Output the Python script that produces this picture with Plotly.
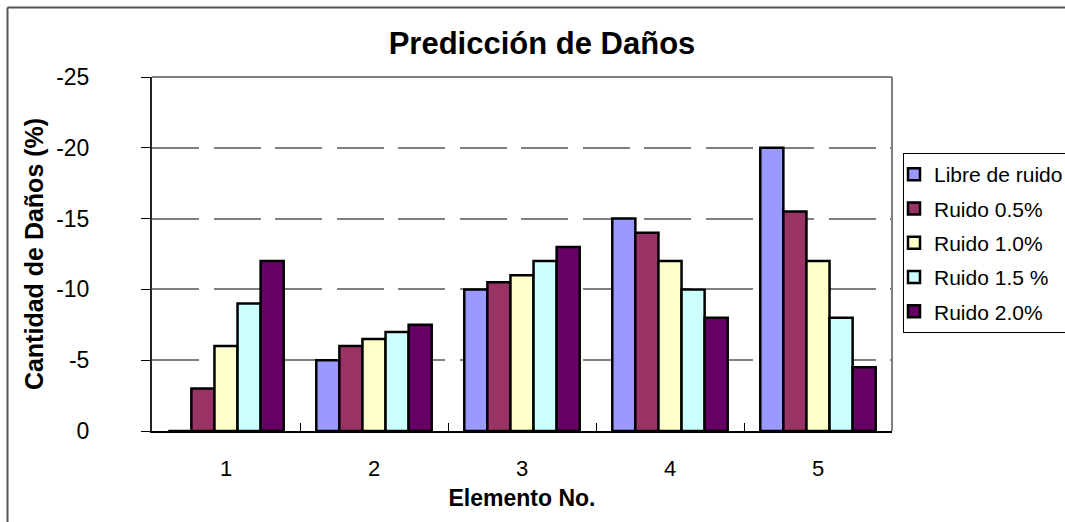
import plotly.graph_objects as go

# Damage prediction per element (negative = loss), one list per noise level
elementos = ["1", "2", "3", "4", "5"]
libre_de_ruido = [0, -5, -10, -15, -20]
ruido_05 = [-3, -6, -10.5, -14, -15.5]
ruido_10 = [-6, -6.5, -11, -12, -12]
ruido_15 = [-9, -7, -12, -10, -8]
ruido_20 = [-12, -7.5, -13, -8, -4.5]

series_names = ["Libre de ruido", "Ruido 0.5%", "Ruido 1.0%", "Ruido 1.5 %", "Ruido 2.0%"]
series_values = [libre_de_ruido, ruido_05, ruido_10, ruido_15, ruido_20]
series_colors = ["#9999FF", "#993366", "#FFFFCC", "#CCFFFF", "#660066"]

y_ticks = [0, -5, -10, -15, -20, -25]

FONT = "Liberation Sans, Arial, sans-serif"

W, H = 1065, 522
M_L, M_R, M_T, M_B = 152, 173, 77, 91
PW, PH = W - M_L - M_R, H - M_T - M_B


def px_x(p):
    return (p - M_L) / PW


def px_y(p):
    return (H - M_B - p) / PH


fig = go.Figure()
for i, (name, vals, col) in enumerate(zip(series_names, series_values, series_colors)):
    fig.add_trace(go.Bar(
        x=elementos, y=vals, name=name,
        marker=dict(color=col, line=dict(color="black", width=2.5)),
        legendgroup=f"g{i}",
    ))

fig.update_layout(
    width=W, height=H, autosize=False,
    margin=dict(l=M_L, r=M_R, t=M_T, b=M_B, pad=0, autoexpand=False),
    paper_bgcolor="white", plot_bgcolor="white",
    barmode="group", bargap=0.22, bargroupgap=0,
    font=dict(family=FONT, color="black", size=22),
    title=dict(
        text="<b>Predicción de Daños</b>",
        font=dict(family=FONT, size=31, color="black"),
        x=542 / W, xanchor="center", xref="container",
        y=1 - 43 / H, yanchor="middle", yref="container",
    ),
    legend=dict(
        x=px_x(903), y=px_y(153), xanchor="left", yanchor="top",
        bordercolor="black", borderwidth=1, bgcolor="white",
        font=dict(family=FONT, size=21, color="black"),
        tracegroupgap=4, indentation=-10,
        entrywidth=175, entrywidthmode="pixels",
    ),
    showlegend=True,
)

fig.update_xaxes(
    type="category",
    showline=True, linecolor="black", linewidth=2,
    ticks="inside", tickson="boundaries", ticklen=8, tickcolor="black", tickwidth=1,
    showgrid=False, ticklabelstandoff=17,
    tickfont=dict(family=FONT, size=22),
    title=dict(text="<b>Elemento No.</b>", font=dict(family=FONT, size=23), standoff=9),
)

fig.update_yaxes(
    range=[0, -25], tickvals=y_ticks, ticktext=[str(v) for v in y_ticks],
    showline=True, linecolor="#222222", linewidth=2,
    ticks="outside", ticklen=9, tickcolor="black", tickwidth=1,
    showgrid=True, gridcolor="#808080", gridwidth=2, griddash="47px,14.5px",
    zeroline=False, ticklabelstandoff=47,
    tickfont=dict(family=FONT, size=23),
    title=dict(text="<b>Cantidad de Daños (%)</b>", font=dict(family=FONT, size=25), standoff=5),
)

# Grey frame on the top and right of the plot area
fig.add_shape(type="line", xref="paper", yref="paper", x0=0, x1=1, y0=1, y1=1,
              line=dict(color="#808080", width=2), layer="above")
fig.add_shape(type="line", xref="paper", yref="paper", x0=1, x1=1, y0=0, y1=1,
              line=dict(color="#808080", width=2), layer="above")

# Outer chart border (left and top edges fall inside the page)
fig.add_shape(type="line", xref="paper", yref="paper",
              x0=px_x(7.5), x1=px_x(7.5), y0=px_y(560), y1=px_y(7.5),
              line=dict(color="#555555", width=2), layer="below")
fig.add_shape(type="line", xref="paper", yref="paper",
              x0=px_x(7.5), x1=px_x(1100), y0=px_y(7.5), y1=px_y(7.5),
              line=dict(color="#555555", width=2), layer="below")

fig.write_html("out.html", config={"displayModeBar": False})
